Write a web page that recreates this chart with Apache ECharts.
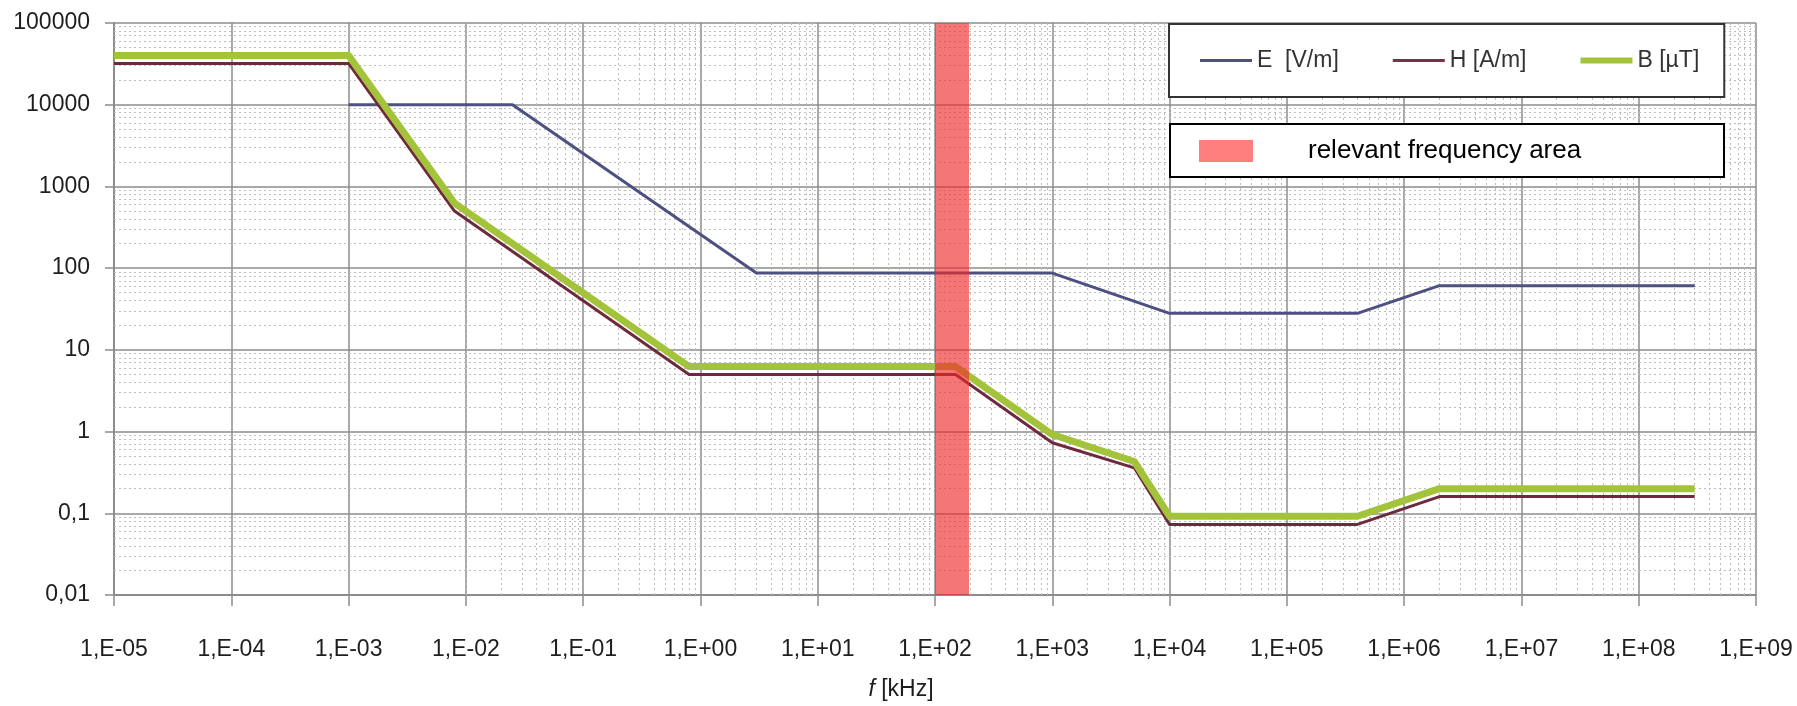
<!DOCTYPE html>
<html>
<head>
<meta charset="utf-8">
<script src="https://cdn.jsdelivr.net/npm/echarts@6/dist/echarts.min.js"></script>
<style>
  html, body { margin: 0; padding: 0; background: #ffffff; }
  #chart { width: 1797px; height: 706px; }
</style>
</head>
<body>
<div id="chart"></div>
<script>
// Reference levels versus frequency (frequency in kHz)
const freqE   = [1e-3, 0.025, 3, 1000, 10000, 4e5, 2e6, 3e8];
const valuesE = [10000, 10000, 87, 87, 28, 28, 61, 61];

const freqHB  = [1e-5, 1e-3, 0.008, 0.8, 150, 1000, 5000, 10000, 4e5, 2e6, 3e8];
const valuesH = [32000, 32000, 500, 5, 5, 0.73, 0.36, 0.073, 0.073, 0.16, 0.16];
const valuesB = [40000, 40000, 625, 6.25, 6.25, 0.92, 0.43, 0.092, 0.092, 0.2, 0.2];

// Highlighted frequency band (kHz)
const bandRange = [100, 195];

const seriesNames = ['E  [V/m]', 'H [A/m]', 'B [µT]'];
const bandName = 'relevant frequency area';

const xTickLabels = ['1,E-05', '1,E-04', '1,E-03', '1,E-02', '1,E-01', '1,E+00', '1,E+01',
                     '1,E+02', '1,E+03', '1,E+04', '1,E+05', '1,E+06', '1,E+07', '1,E+08', '1,E+09'];
const yTickLabels = ['0,01', '0,1', '1', '10', '100', '1000', '10000', '100000'];
const xMinExp = -5, xMaxExp = 9, yMinExp = -2, yMaxExp = 5;

const FONT = '"Liberation Sans", Arial, sans-serif';
const TEXT_COLOR = '#1e1e1e';

function pairs(xs, ys) { return xs.map((x, i) => [x, ys[i]]); }

// Minor grid: 2..9 within every decade of both axes
const minorLines = [];
for (let k = xMinExp; k < xMaxExp; k++) {
  for (let m = 2; m <= 9; m++) minorLines.push({ xAxis: m * Math.pow(10, k) });
}
for (let k = yMinExp; k < yMaxExp; k++) {
  for (let m = 2; m <= 9; m++) minorLines.push({ yAxis: m * Math.pow(10, k) });
}

// Plain line swatches for the legend (thin for E and H, thick for B)
const thinLineIcon = 'path://M0,0H52V3H0Z';
const thickLineIcon = 'path://M0,0H52V6H0Z';

const chart = echarts.init(document.getElementById('chart'), null, { renderer: 'canvas' });

const gridColor = '#8c8c8c';

chart.setOption({
  animation: false,
  backgroundColor: '#ffffff',
  grid: { left: 114, right: 41, top: 23, bottom: 108, containLabel: false },
  xAxis: {
    type: 'log',
    logBase: 10,
    min: Math.pow(10, xMinExp),
    max: Math.pow(10, xMaxExp),
    splitNumber: xMaxExp - xMinExp,
    interval: 1,
    name: '{i|f} [kHz]',
    nameLocation: 'middle',
    nameGap: 83,
    nameTextStyle: {
      fontFamily: FONT, fontSize: 23, color: TEXT_COLOR,
      padding: [0, 68, 0, 0],
      rich: { i: { fontFamily: FONT, fontSize: 23, fontStyle: 'italic', color: TEXT_COLOR } }
    },
    axisLine: { show: true, lineStyle: { color: gridColor, width: 2 } },
    axisTick: { show: true, inside: false, length: 11, lineStyle: { color: gridColor, width: 1.5 } },
    axisLabel: {
      show: true, margin: 43, fontFamily: FONT, fontSize: 23, color: TEXT_COLOR,
      showMinLabel: true, showMaxLabel: true,
      formatter: v => xTickLabels[Math.round(Math.log10(v)) - xMinExp]
    },
    splitLine: { show: true, lineStyle: { color: gridColor, width: 1.5 } }
  },
  yAxis: {
    type: 'log',
    logBase: 10,
    min: Math.pow(10, yMinExp),
    max: Math.pow(10, yMaxExp),
    splitNumber: yMaxExp - yMinExp,
    interval: 1,
    axisLine: { show: true, lineStyle: { color: gridColor, width: 2 } },
    axisTick: { show: true, inside: false, length: 9, lineStyle: { color: gridColor, width: 1.5 } },
    axisLabel: {
      show: true, margin: 24, fontFamily: FONT, fontSize: 23, color: TEXT_COLOR,
      showMinLabel: true, showMaxLabel: true,
      formatter: v => yTickLabels[Math.round(Math.log10(v)) - yMinExp]
    },
    splitLine: { show: true, lineStyle: { color: gridColor, width: 1.5 } }
  },
  legend: {
    data: [
      { name: seriesNames[0], icon: thinLineIcon },
      { name: seriesNames[1], icon: thinLineIcon },
      { name: seriesNames[2], icon: thickLineIcon }
    ],
    left: 1169,
    top: 24,
    z: 20,
    orient: 'horizontal',
    itemWidth: 52,
    itemHeight: 20,
    itemGap: 54,
    padding: [25, 25, 25, 31],
    borderColor: '#333333',
    borderWidth: 2,
    backgroundColor: '#ffffff',
    textStyle: { fontFamily: FONT, fontSize: 23, color: '#333333' },
    selectedMode: false
  },
  graphic: [
    {
      type: 'group',
      left: 1169,
      top: 123,
      z: 20,
      children: [
        { type: 'rect', z: 20, shape: { x: 0, y: 0, width: 554, height: 53 },
          style: { fill: '#ffffff', stroke: '#000000', lineWidth: 2 } },
        { type: 'rect', z: 21, shape: { x: 29, y: 16, width: 54, height: 22 },
          style: { fill: '#ff7f7f' } },
        { type: 'text', z: 21, x: 138, y: 27,
          style: { text: bandName, fontFamily: FONT, fontSize: 26, fill: '#000000',
                   verticalAlign: 'middle', align: 'left' } }
      ]
    }
  ],
  series: [
    {
      name: 'minor grid',
      type: 'line',
      data: [],
      silent: true,
      markLine: {
        silent: true,
        z: 1,
        symbol: ['none', 'none'],
        label: { show: false },
        lineStyle: { color: '#bdbdbd', width: 1, type: [2, 3] },
        emphasis: { disabled: true },
        data: minorLines
      }
    },
    {
      name: seriesNames[0],
      type: 'line',
      data: pairs(freqE, valuesE),
      showSymbol: false,
      symbol: 'none',
      z: 3,
      color: '#4d5080',
      lineStyle: { color: '#4d5080', width: 3, join: 'round' }
    },
    {
      name: seriesNames[1],
      type: 'line',
      data: pairs(freqHB, valuesH),
      showSymbol: false,
      symbol: 'none',
      z: 3,
      color: '#7a3048',
      lineStyle: { color: '#6e2a3c', width: 3, join: 'round' }
    },
    {
      name: seriesNames[2],
      type: 'line',
      data: pairs(freqHB, valuesB),
      showSymbol: false,
      symbol: 'none',
      z: 3,
      color: '#a3c43a',
      lineStyle: { color: '#a3c43a', width: 7, join: 'round' }
    },
    {
      name: bandName,
      type: 'line',
      data: [],
      silent: true,
      markArea: {
        silent: true,
        z: 10,
        itemStyle: { color: 'rgba(240, 40, 40, 0.64)' },
        data: [[{ xAxis: bandRange[0] }, { xAxis: bandRange[1] }]]
      }
    }
  ]
});
</script>
</body>
</html>
